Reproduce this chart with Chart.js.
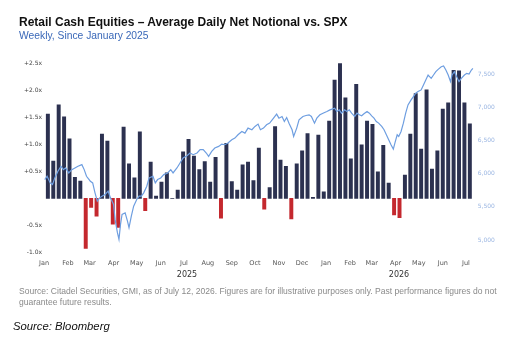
<!DOCTYPE html>
<html><head><meta charset="utf-8">
<script src="https://cdn.jsdelivr.net/npm/chart.js@4.4.1/dist/chart.umd.min.js"></script>
<style>
html,body{margin:0;padding:0;background:#fff;}
#wrap{position:relative;width:516px;height:342px;overflow:hidden;font-family:"Liberation Sans",Arial,sans-serif;}
canvas{position:absolute;left:0;top:0;}
.t{position:absolute;white-space:nowrap;line-height:1;}
.yr{position:absolute;transform:translateX(-50%);font-family:"DejaVu Sans",sans-serif;font-size:8px;color:#333;line-height:1;}
</style></head><body>
<div id="wrap">
<canvas id="c" width="516" height="342"></canvas>
<div class="t" style="left:19px;top:16px;font-weight:bold;font-size:12px;color:#111;">Retail Cash Equities – Average Daily Net Notional vs. SPX</div>
<div class="t" style="left:19px;top:31px;font-size:10.3px;color:#3a68b8;">Weekly, Since January 2025</div>
<div class="yr" style="left:187px;top:271px;">2025</div>
<div class="yr" style="left:399px;top:271px;">2026</div>
<div class="t" style="left:19px;top:286px;font-size:8.55px;line-height:11px;color:#8a8a8a;">Source: Citadel Securities, GMI, as of July 12, 2026. Figures are for illustrative purposes only. Past performance figures do not<br>guarantee future results.</div>
<div class="t" style="left:13px;top:321px;font-size:11.3px;font-style:italic;color:#111;">Source: Bloomberg</div>
</div>
<script>
// Weekly buckets (week starting)
const weekStart = [
'2025-01-06','2025-01-13','2025-01-20','2025-01-27','2025-02-03','2025-02-10','2025-02-17','2025-02-24',
'2025-03-03','2025-03-10','2025-03-17','2025-03-24','2025-03-31','2025-04-07','2025-04-14','2025-04-21','2025-04-28',
'2025-05-05','2025-05-12','2025-05-19','2025-05-26','2025-06-02','2025-06-09','2025-06-16','2025-06-23','2025-06-30',
'2025-07-07','2025-07-14','2025-07-21','2025-07-28','2025-08-04','2025-08-11','2025-08-18','2025-08-25',
'2025-09-01','2025-09-08','2025-09-15','2025-09-22','2025-09-29','2025-10-06','2025-10-13','2025-10-20','2025-10-27',
'2025-11-03','2025-11-10','2025-11-17','2025-11-24','2025-12-01','2025-12-08','2025-12-15','2025-12-22','2025-12-29',
'2026-01-05','2026-01-12','2026-01-19','2026-01-26','2026-02-02','2026-02-09','2026-02-16','2026-02-23',
'2026-03-02','2026-03-09','2026-03-16','2026-03-23','2026-03-30','2026-04-06','2026-04-13','2026-04-20','2026-04-27',
'2026-05-04','2026-05-11','2026-05-18','2026-05-25','2026-06-01','2026-06-08','2026-06-15','2026-06-22','2026-06-29',
'2026-07-06'];
// Average daily net notional (x, left axis)
const netNotional = [
1.56,0.69,1.73,1.51,1.10,0.39,0.32,-0.93,
-0.17,-0.33,1.19,1.06,-0.48,-0.54,1.32,0.64,0.38,
1.23,-0.23,0.67,0.04,0.30,0.47,0.00,0.15,0.86,
1.09,0.78,0.53,0.68,0.30,0.76,-0.37,1.02,
0.31,0.15,0.62,0.67,0.33,0.93,-0.20,0.20,1.33,
0.71,0.59,-0.38,0.64,0.88,1.20,0.02,1.17,0.12,
1.43,2.19,2.58,1.86,0.73,2.11,0.99,1.43,
1.37,0.49,0.98,0.28,-0.31,-0.36,0.43,1.19,1.94,
0.91,2.01,0.54,0.88,1.65,1.77,2.37,2.36,1.77,
1.38];
// SPX (right axis): days since 2025-01-01 and level
const spxDay = [1,4,8,11,14,18,22,25,28,32,36,40,44,49,52,55,60,63,66,69,72,75,79,83,86,90,92,95,97,99,
101,105,108,110,113,116,120,123,126,129,133,136,141,144,147,151,155,160,164,167,172,176,180,185,189,193,198,202,206,210,
213,217,221,226,230,234,238,243,247,251,256,260,264,269,273,277,280,284,288,292,297,301,304,308,311,314,317,321,323,327,
330,335,339,343,346,350,353,357,361,366,370,376,379,382,385,389,392,395,398,402,405,408,411,414,418,421,424,427,430,433,
437,440,443,446,449,452,454,457,459,462,465,468,471,475,478,481,484,488,491,494,497,501,504,507,510,514,517,520,523,526,
528,531,534,537,540,544,547,550,553,555];
const spxValue = [5910,5960,5860,5835,5935,6035,6110,6060,6085,6010,6060,6085,6110,6135,6060,5960,5885,5860,5710,5585,5635,5660,5685,5735,5635,5535,5310,5110,5010,5235,
5385,5410,5285,5185,5360,5510,5610,5660,5660,5710,5810,5935,5960,5860,5910,5935,5985,6010,6060,6010,6085,6160,6235,6270,6310,6285,6310,6360,6360,6310,
6260,6335,6385,6410,6445,6435,6460,6510,6535,6585,6635,6610,6685,6660,6710,6745,6660,6685,6735,6760,6835,6895,6835,6860,6785,6845,6760,6660,6560,6685,
6810,6860,6875,6885,6860,6760,6835,6885,6910,6935,6960,6985,6935,6960,6910,6960,6935,6960,6910,6860,6910,6885,6870,6900,6935,6910,6870,6835,6785,6760,
6710,6660,6585,6510,6435,6370,6460,6585,6560,6635,6760,6910,7035,7110,7160,7210,7235,7260,7335,7410,7485,7435,7485,7535,7570,7610,7620,7560,7485,7385,
7485,7535,7460,7385,7435,7485,7510,7500,7560,7585];
// Axis tick labels
const monthStarts = ['2025-01-01','2025-02-01','2025-03-01','2025-04-01','2025-05-01','2025-06-01','2025-07-01','2025-08-01','2025-09-01','2025-10-01','2025-11-01','2025-12-01',
'2026-01-01','2026-02-01','2026-03-01','2026-04-01','2026-05-01','2026-06-01','2026-07-01'];
const monthNames = ['Jan','Feb','Mar','Apr','May','Jun','Jul','Aug','Sep','Oct','Nov','Dec'];
const leftTicks = [-1.0,-0.5,0,0.5,1.0,1.5,2.0,2.5];
const rightTicks = [5000,5500,6000,6500,7000,7500];

const T0 = Date.UTC(2025,0,1), DAY = 86400000;
const dayOf = s => { const p = s.split('-').map(Number); return (Date.UTC(p[0],p[1]-1,p[2]) - T0)/DAY; };
const monthLabelByDay = {};
monthStarts.forEach(m => { monthLabelByDay[dayOf(m)] = monthNames[Number(m.split('-')[1]) - 1]; });

const tickFont = {family:'DejaVu Sans', size:6};
new Chart(document.getElementById('c'), {
  type: 'bar',
  data: { datasets: [
    { type:'line', yAxisID:'y2', data: spxDay.map((d,i)=>({x:d, y:spxValue[i]})),
      borderColor:'#6e9ee0', borderWidth:1.2, pointRadius:0, tension:0, order:0 },
    { type:'bar', yAxisID:'y', data: weekStart.map((w,i)=>({x:dayOf(w), y:netNotional[i]})),
      backgroundColor: netNotional.map(v => v < 0 ? '#c4282e' : '#2c3150'), barThickness:3.3, order:1 }
  ]},
  options: {
    responsive:false, animation:false, devicePixelRatio:1,
    layout:{padding:{left:0,right:0,top:63.3,bottom:0}},
    plugins:{legend:{display:false}, tooltip:{enabled:false}},
    scales:{
      x:{type:'linear', min:0, max:556, offset:false,
        grid:{display:false, drawTicks:false}, border:{display:false},
        afterBuildTicks: s => { s.ticks = monthStarts.map(m => ({value: dayOf(m)})); },
        ticks:{autoSkip:false, maxRotation:0, minRotation:0, padding:7, font:{family:'DejaVu Sans', size:6.5}, color:'#555',
          callback: v => monthLabelByDay[v] || ''},
        afterFit: s => { s.height = 342 - 252.3; } },
      y:{position:'left', min:-1, max:2.5,
        grid:{display:false, drawTicks:false}, border:{display:false},
        afterBuildTicks: s => { s.ticks = leftTicks.map(v => ({value:v})); },
        ticks:{padding:2, font:tickFont, color:'#444',
          callback: v => v === 0 ? '' : (v > 0 ? '+' : '') + v.toFixed(1) + 'x'},
        afterFit: s => { s.width = 44; } },
      y2:{position:'right', min:4815, max:7661,
        grid:{display:false, drawTicks:false}, border:{display:false},
        afterBuildTicks: s => { s.ticks = rightTicks.map(v => ({value:v})); },
        ticks:{padding:4, font:tickFont, color:'#9bb6e2',
          callback: v => v.toLocaleString('en-US')},
        afterFit: s => { s.width = 516 - 473.7; } }
    }
  }
});
</script>
</body></html>
